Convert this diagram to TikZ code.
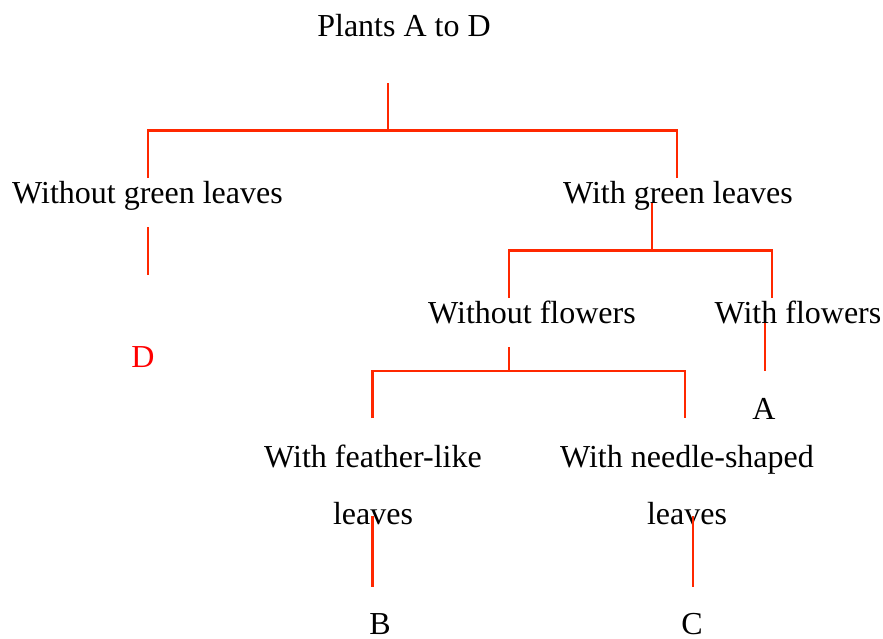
\documentclass[tikz,border=0pt]{standalone}
\usepackage{fontspec}
\setmainfont{Liberation Serif}
\definecolor{lineRed}{RGB}{255,40,0}
\definecolor{labRed}{RGB}{255,0,0}
\begin{document}
\begin{tikzpicture}[x=1pt,y=-1pt,
  lab/.style={inner sep=0pt,anchor=base,font=\fontsize{32}{57}\selectfont,align=center},
  conn/.style={draw=lineRed,line width=2.2pt}]
\useasboundingbox (0,0) rectangle (883,638);
% text nodes
\node[lab] (root) at (404,36) {Plants A to D};
\node[lab] (nogreen) at (147.5,203) {Without green leaves};
\node[lab] (green) at (678,203) {With green leaves};
\node[lab,text=labRed] (D) at (143,367) {D};
\node[lab] (noflow) at (532,323) {Without flowers};
\node[lab] (flow) at (798,323) {With flowers};
\node[lab] (A) at (764,419) {A};
\node[lab] (feather) at (373,524) {With feather-like\\leaves};
\node[lab] (needle) at (687,524) {With needle-shaped\\leaves};
\node[lab] (B) at (380,634) {B};
\node[lab] (C) at (692,634) {C};
% junction coordinates
\coordinate (r0) at (388,83);
\coordinate (r1) at (388,130.5);
\coordinate (rl) at (148,130.5);
\coordinate (rl2) at (148,178);
\coordinate (rr) at (677,130.5);
\coordinate (rr2) at (677,178);
\coordinate (d0) at (148,227);
\coordinate (d1) at (148,275);
\coordinate (g0) at (652,203);
\coordinate (g1) at (652,250.5);
\coordinate (gl) at (509,250.5);
\coordinate (gl2) at (509,298);
\coordinate (gr) at (772,250.5);
\coordinate (gr2) at (772,298);
\coordinate (a0) at (765,323);
\coordinate (a1) at (765,371);
\coordinate (n0) at (509,347);
\coordinate (n1) at (509,371);
\coordinate (nl) at (372.5,371);
\coordinate (nl2) at (372.5,418);
\coordinate (nr) at (685,371);
\coordinate (nr2) at (685,418);
\coordinate (b0) at (372.5,516);
\coordinate (b1) at (372.5,587);
\coordinate (c0) at (693,516);
\coordinate (c1) at (693,587);
% connectors
\draw[conn] (r0) -- (r1);
\draw[conn] (rl2) -- (rl) -- (rr) -- (rr2);
\draw[conn] (d0) -- (d1);
\draw[conn] (g0) -- (g1);
\draw[conn] (gl2) -- (gl) -- (gr) -- (gr2);
\draw[conn] (a0) -- (a1);
\draw[conn] (n0) -- (n1);
\draw[conn] (nl2) -- (nl) -- (nr) -- (nr2);
\draw[conn] (b0) -- (b1);
\draw[conn] (c0) -- (c1);
\end{tikzpicture}
\end{document}
